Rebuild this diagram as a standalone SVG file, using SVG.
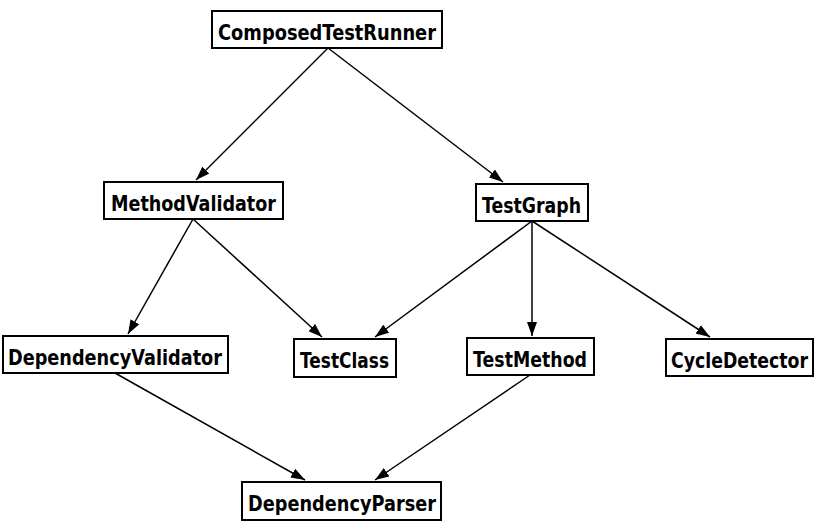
<svg xmlns="http://www.w3.org/2000/svg" width="822" height="522" viewBox="0 0 822 522">
<style>
.box{fill:#fff;stroke:#000;stroke-width:2}
.lbl{font-family:"DejaVu Sans",Verdana,sans-serif;font-weight:bold;font-size:20.5px;fill:#000}
.edge{stroke:#000;stroke-width:1.5;fill:none;marker-end:url(#ah)}
</style>
<defs>
<marker id="ah" viewBox="0 0 14 10" refX="14" refY="5" markerWidth="14" markerHeight="10" markerUnits="userSpaceOnUse" orient="auto">
<path d="M0,0 L14,5 L0,10 Z" fill="#000"/>
</marker>
</defs>
<rect width="822" height="522" fill="#fff"/>
<g id="connectors">
<line class="edge" x1="328" y1="48" x2="196" y2="180"/>
<line class="edge" x1="328" y1="48" x2="503" y2="182"/>
<line class="edge" x1="193" y1="219" x2="128" y2="334"/>
<line class="edge" x1="193" y1="219" x2="322" y2="337"/>
<line class="edge" x1="532" y1="221" x2="375" y2="337"/>
<line class="edge" x1="532" y1="221" x2="532" y2="336"/>
<line class="edge" x1="532" y1="221" x2="710" y2="337"/>
<line class="edge" x1="115" y1="373" x2="305" y2="480"/>
<line class="edge" x1="530" y1="375" x2="375" y2="480"/>
</g>
<g id="ComposedTestRunner">
<rect class="box" x="212" y="11" width="230" height="37"/>
<text class="lbl" x="218" y="39.5" textLength="218" lengthAdjust="spacingAndGlyphs">ComposedTestRunner</text>
</g>
<g id="MethodValidator">
<rect class="box" x="104" y="182" width="179" height="37"/>
<text class="lbl" x="111" y="210.5" textLength="165" lengthAdjust="spacingAndGlyphs">MethodValidator</text>
</g>
<g id="TestGraph">
<rect class="box" x="476" y="184" width="112" height="37"/>
<text class="lbl" x="482" y="212.5" textLength="99" lengthAdjust="spacingAndGlyphs">TestGraph</text>
</g>
<g id="DependencyValidator">
<rect class="box" x="3" y="336" width="225" height="37"/>
<text class="lbl" x="8" y="364.5" textLength="214" lengthAdjust="spacingAndGlyphs">DependencyValidator</text>
</g>
<g id="TestClass">
<rect class="box" x="294" y="339" width="102" height="38"/>
<text class="lbl" x="300" y="367.5" textLength="89" lengthAdjust="spacingAndGlyphs">TestClass</text>
</g>
<g id="TestMethod">
<rect class="box" x="467" y="338" width="127" height="37"/>
<text class="lbl" x="473" y="366.5" textLength="114" lengthAdjust="spacingAndGlyphs">TestMethod</text>
</g>
<g id="CycleDetector">
<rect class="box" x="666" y="339" width="147" height="37"/>
<text class="lbl" x="671" y="367.5" textLength="137" lengthAdjust="spacingAndGlyphs">CycleDetector</text>
</g>
<g id="DependencyParser">
<rect class="box" x="242" y="482" width="199" height="38"/>
<text class="lbl" x="248" y="510.5" textLength="188" lengthAdjust="spacingAndGlyphs">DependencyParser</text>
</g>
</svg>
